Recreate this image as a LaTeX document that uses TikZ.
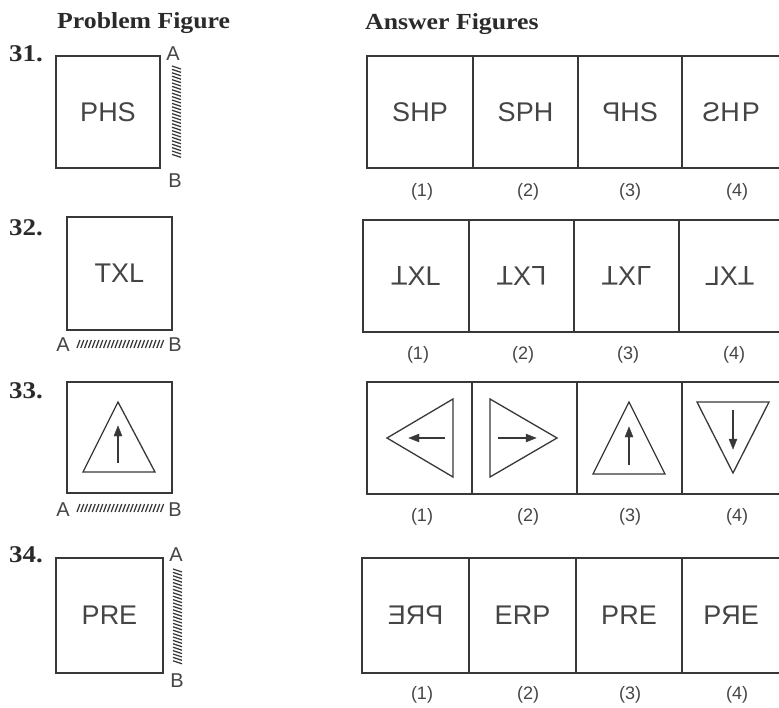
\documentclass[tikz,border=0pt]{standalone}
\usepackage{fontspec}
\usepackage{graphicx}
\setmainfont{Liberation Serif}
\newfontfamily\arialf{Liberation Sans}
\usetikzlibrary{arrows.meta}
\definecolor{linec}{HTML}{383838}
\definecolor{textc}{HTML}{454545}
\definecolor{headc}{HTML}{2A2A2A}
\newcommand{\hfl}[1]{\reflectbox{#1}}
\newcommand{\vfl}[1]{\raisebox{\depth}{\scalebox{1}[-1]{#1}}}
\newcommand{\rfl}[1]{\raisebox{\depth}{\scalebox{-1}[-1]{#1}}}
\newcommand{\wide}[1]{\scalebox{1.12}[1]{#1}}
\begin{document}
\begin{tikzpicture}[x=1pt,y=-1pt,
  fig/.style={draw=linec, line width=1.6pt, rectangle, inner sep=0pt,
    font=\arialf\fontsize{27}{27}\selectfont, text=textc},
  head/.style={font=\bfseries\fontsize{23}{23}\selectfont, text=headc, anchor=base west, inner sep=0pt},
  num/.style={font=\bfseries\fontsize{24}{24}\selectfont, text=headc, anchor=base west, inner sep=0pt},
  lab/.style={font=\arialf\fontsize{18}{18}\selectfont, text=textc, inner sep=0pt},
  ml/.style={font=\arialf\fontsize{20}{20}\selectfont, text=textc, inner sep=0pt},
  tri/.style={draw=linec, line width=1.3pt, line join=miter},
  shaft/.style={draw=linec, line width=1.3pt},
  tip/.style={fill=linec, draw=linec, line width=0.4pt, line join=miter},
  hatch/.style={draw=linec, line width=1.25pt}
]
\useasboundingbox (0,0) rectangle (779,708);
\clip (0,0) rectangle (779,708);
\fill[white] (0,0) rectangle (779,708);

% headers
\node[head] (hp) at (57,29) {\wide{Problem Figure}};
\node[head] (ha) at (365,30) {\wide{Answer Figures}};

% numbers
\node[num] (n31) at (9,62) {\wide{31.}};
\node[num] (n32) at (9,236) {\wide{32.}};
\node[num] (n33) at (9,399) {\wide{33.}};
\node[num] (n34) at (9,562) {\wide{34.}};

% ---------- Row 31 ----------
\node[fig, minimum width=104pt, minimum height=112pt] (p31) at (108,112) {PHS};
\foreach \y in {66,69.4,...,157} \draw[hatch] (172,\y) -- ++(9,3);
\node[ml] (a31) at (173,54) {A};
\node[ml] (b31) at (175,181) {B};
\node[fig, minimum width=106pt, minimum height=112pt] (q31a) at (420,112) {SHP};
\node[fig, minimum width=105pt, minimum height=112pt] (q31b) at (525.5,112) {SPH};
\node[fig, minimum width=104pt, minimum height=112pt] (q31c) at (630,112) {\hfl{P}HS};
\node[fig, minimum width=110pt, minimum height=112pt] (q31d) at (737,112) {\hspace{-12pt}\hfl{S}H\hspace{2pt}P};
\node[lab] (l31a) at (422,192) {(1)};
\node[lab] (l31b) at (528,192) {(2)};
\node[lab] (l31c) at (630,192) {(3)};
\node[lab] (l31d) at (737,192) {(4)};

% ---------- Row 32 ----------
\node[fig, minimum width=105pt, minimum height=113pt] (p32) at (119.5,273.5) {TXL};
\foreach \x in {77,80.8,...,161} \draw[hatch] (\x,348) -- ++(3,-8);
\node[ml] (a32) at (63,345) {A};
\node[ml] (b32) at (175,345) {B};
\node[fig, minimum width=106pt, minimum height=112pt] (q32a) at (416,276) {\vfl{T}XL};
\node[fig, minimum width=105pt, minimum height=112pt] (q32b) at (521.5,276) {\vfl{T}X\rfl{L}};
\node[fig, minimum width=105pt, minimum height=112pt] (q32c) at (626.5,276) {\vfl{T}X\vfl{L}};
\node[fig, minimum width=113pt, minimum height=112pt] (q32d) at (735.5,276) {\hspace{-12pt}\hfl{L}X\vfl{T}};
\node[lab] (l32a) at (418,355) {(1)};
\node[lab] (l32b) at (523,355) {(2)};
\node[lab] (l32c) at (628,355) {(3)};
\node[lab] (l32d) at (734,355) {(4)};

% ---------- Row 33 ----------
\node[fig, minimum width=105pt, minimum height=111pt] (p33) at (119.5,437.5) {};
\draw[tri] (118,402) -- (155,472) -- (83,472) -- cycle;
\draw[shaft] (118,463) -- (118,434);
\draw[tip] (118,426) -- (122,436) -- (114,436) -- cycle;
\foreach \x in {77,80.8,...,161} \draw[hatch] (\x,512) -- ++(3,-8);
\node[ml] (a33) at (63,510) {A};
\node[ml] (b33) at (175,510) {B};
\node[fig, minimum width=105pt, minimum height=112pt] (q33a) at (419.5,438) {};
\node[fig, minimum width=105pt, minimum height=112pt] (q33b) at (524.5,438) {};
\node[fig, minimum width=105pt, minimum height=112pt] (q33c) at (629.5,438) {};
\node[fig, minimum width=110pt, minimum height=112pt] (q33d) at (737,438) {};
% (1)
\draw[tri] (387,438) -- (453,399) -- (453,477) -- cycle;
\draw[shaft] (445,438) -- (417,438);
\draw[tip] (409,438) -- (419,434) -- (419,442) -- cycle;
% (2)
\draw[tri] (557,438) -- (490,399) -- (490,477) -- cycle;
\draw[shaft] (498,438) -- (528,438);
\draw[tip] (536,438) -- (526,434) -- (526,442) -- cycle;
% (3)
\draw[tri] (629,402) -- (665,474) -- (593,474) -- cycle;
\draw[shaft] (629,465) -- (629,435);
\draw[tip] (629,427) -- (633,437) -- (625,437) -- cycle;
% (4)
\draw[tri] (697,402) -- (769,402) -- (733,473) -- cycle;
\draw[shaft] (733,410) -- (733,441);
\draw[tip] (733,449) -- (737,439) -- (729,439) -- cycle;
\node[lab] (l33a) at (422,517) {(1)};
\node[lab] (l33b) at (528,517) {(2)};
\node[lab] (l33c) at (630,517) {(3)};
\node[lab] (l33d) at (737,517) {(4)};

% ---------- Row 34 ----------
\node[fig, minimum width=107pt, minimum height=115pt] (p34) at (109.5,615.5) {PRE};
\foreach \y in {569,572.4,...,663} \draw[hatch] (173,\y) -- ++(9,3);
\node[ml] (a34) at (176,555) {A};
\node[ml] (b34) at (177,681) {B};
\node[fig, minimum width=107pt, minimum height=115pt] (q34a) at (415.5,615.5) {\hfl{PRE}};
\node[fig, minimum width=107pt, minimum height=115pt] (q34b) at (522.5,615.5) {ERP};
\node[fig, minimum width=106pt, minimum height=115pt] (q34c) at (629,615.5) {PRE};
\node[fig, minimum width=110pt, minimum height=115pt] (q34d) at (737,615.5) {\hspace{-12pt}P\hfl{R}E};
\node[lab] (l34a) at (422,695) {(1)};
\node[lab] (l34b) at (528,695) {(2)};
\node[lab] (l34c) at (630,695) {(3)};
\node[lab] (l34d) at (737,695) {(4)};
\end{tikzpicture}
\end{document}
